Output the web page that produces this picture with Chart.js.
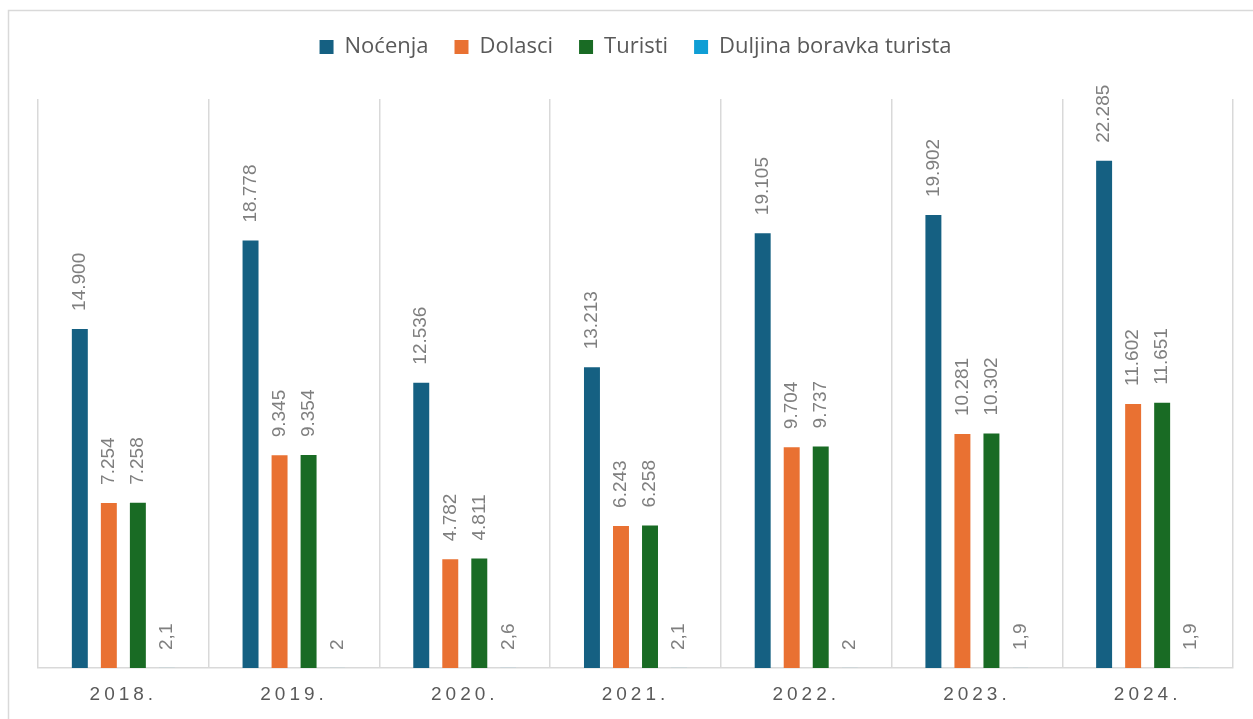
<!DOCTYPE html>
<html>
<head>
<meta charset="utf-8">
<script src="https://cdn.jsdelivr.net/npm/chart.js@4/dist/chart.umd.min.js"></script>
<style>
  html, body { margin: 0; padding: 0; background: #fff; }
  #wrap { width: 1253px; height: 719px; position: relative; }
</style>
</head>
<body>
<div id="wrap"><canvas id="chart"></canvas></div>
<script>
const years = ["2018.", "2019.", "2020.", "2021.", "2022.", "2023.", "2024."];
const nocenja = [14900, 18778, 12536, 13213, 19105, 19902, 22285];
const dolasci = [7254, 9345, 4782, 6243, 9704, 10281, 11602];
const turisti = [7258, 9354, 4811, 6258, 9737, 10302, 11651];
const duljina = [2.1, 2, 2.6, 2.1, 2, 1.9, 1.9];

// hr format: 14.900 / 2,1
function fmt(v) {
    if (Number.isInteger(v)) return String(v).replace(/\B(?=(\d{3})+(?!\d))/g, ".");
    return String(v).replace(".", ",");
}

const labelFont = '19px "Liberation Sans", Arial, sans-serif';

const frame = {
    id: 'frame',
    beforeInit(chart) {
        const fit = chart.legend.fit;
        chart.legend.fit = function () {
            fit.call(this);
            this.height += 31;
        };
    },
    beforeDraw(chart) {
        const ctx = chart.ctx;
        ctx.save();
        ctx.strokeStyle = '#d9d9d9';
        ctx.lineWidth = 1.5;
        ctx.strokeRect(8.5, 10.5, 1400, 900);
        ctx.restore();
    }
};

const barLabels = {
    id: 'barLabels',
    afterDatasetsDraw(chart) {
        const ctx = chart.ctx;
        ctx.save();
        ctx.font = labelFont;
        ctx.fillStyle = '#7f7f7f';
        ctx.textAlign = 'left';
        ctx.textBaseline = 'middle';
        chart.data.datasets.forEach((ds, i) => {
            chart.getDatasetMeta(i).data.forEach((bar, j) => {
                ctx.save();
                ctx.translate(bar.x, bar.y - 18);
                ctx.rotate(-Math.PI / 2);
                ctx.fillText(fmt(ds.data[j]), 0, 0);
                ctx.restore();
            });
        });
        ctx.restore();
    },
    afterDraw(chart) {
        const ctx = chart.ctx;
        const xs = chart.scales.x;
        ctx.save();
        ctx.font = labelFont;
        ctx.fillStyle = '#595959';
        ctx.letterSpacing = '4px';
        ctx.textAlign = 'center';
        ctx.textBaseline = 'middle';
        years.forEach((y, i) => {
            ctx.fillText(y, xs.getPixelForValue(i), chart.chartArea.bottom + 27);
        });
        ctx.restore();
    }
};

new Chart(document.getElementById('chart'), {
    type: 'bar',
    data: {
        labels: years,
        datasets: [
            { label: "Noćenja", data: nocenja, backgroundColor: '#156082' },
            { label: "Dolasci", data: dolasci, backgroundColor: '#E97132' },
            { label: "Turisti", data: turisti, backgroundColor: '#196B24' },
            { label: "Duljina boravka turista", data: duljina, backgroundColor: '#0F9ED5' }
        ]
    },
    options: {
        responsive: true,
        maintainAspectRatio: false,
        animation: false,
        devicePixelRatio: 1,
        categoryPercentage: 0.68,
        barPercentage: 0.55,
        layout: { padding: { left: 38, right: 20, top: 10, bottom: 51 } },
        plugins: {
            legend: {
                position: 'top',
                labels: {
                    boxWidth: 14,
                    boxHeight: 14,
                    padding: 26,
                    color: '#595959',
                    font: { family: '"Open Sans", sans-serif', size: 22 }
                }
            },
            tooltip: { enabled: false }
        },
        scales: {
            x: {
                grid: { color: '#d9d9d9', lineWidth: 1.5, drawTicks: false, offset: true },
                border: { color: '#d9d9d9', width: 1.5 },
                ticks: { display: false }
            },
            y: {
                display: false,
                min: 0,
                max: 25000
            }
        }
    },
    plugins: [frame, barLabels]
});
</script>
</body>
</html>
